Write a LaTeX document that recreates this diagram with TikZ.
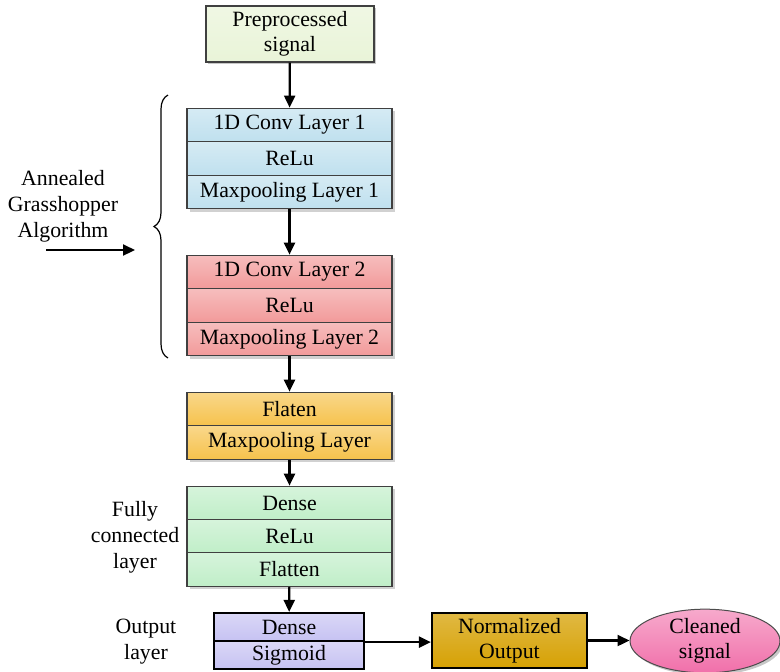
\documentclass[tikz,border=0pt]{standalone}
\usepackage{fontspec}
\setmainfont{Liberation Serif}
\usetikzlibrary{arrows.meta,shapes.geometric,shadows,decorations.pathreplacing,backgrounds}
\definecolor{cpre}{HTML}{E9F4D8}
\definecolor{cblue}{HTML}{BFE0EE}
\definecolor{cred}{HTML}{F29A9A}
\definecolor{corange}{HTML}{F6C24C}
\definecolor{cgreen}{HTML}{C0EEC8}
\definecolor{clav}{HTML}{C6C2F2}
\definecolor{cgold}{HTML}{D6A104}
\definecolor{cpink}{HTML}{F170AA}
\begin{document}
\begin{tikzpicture}[x=0.5pt,y=-0.5pt,
  every node/.style={font=\fontsize{10.9}{12.6}\selectfont, align=center, inner sep=0pt},
  sh/.style={drop shadow={shadow xshift=1.2pt,shadow yshift=-1.2pt,opacity=0.22,fill=black}},
  row/.style={rectangle, draw=black!75, line width=0.6pt, minimum width=102.5pt, minimum height=16.75pt,
     top color=#1!65!white, bottom color=#1},
  orow/.style={rectangle, draw=black, line width=1.1pt, minimum width=75pt, minimum height=14pt,
     top color=#1!65!white, bottom color=#1},
  arr/.style={-{Triangle[length=6pt,width=5.5pt]}, line width=1.1pt, black},
  lbl/.style={font=\fontsize{10.9}{13}\selectfont},
  blockshadow/.style={fill=black, opacity=0.18}
]
\useasboundingbox (0,0) rectangle (780,671);

% block shadows
\fill[blockshadow] (190,111) rectangle (395,212);
\fill[blockshadow] (190,258) rectangle (395,359);
\fill[blockshadow] (190,395) rectangle (395,462);
\fill[blockshadow] (190,489) rectangle (395,589);

% preprocessed signal
\node[rectangle, draw=black!75, line width=0.6pt, minimum width=84pt, minimum height=28pt,
      top color=cpre!70!white, bottom color=cpre, sh] (pre) at (290,34) {Preprocessed\\signal};

% block 1
\node[row=cblue] (b1a) at (289.5,125) {1D Conv Layer 1};
\node[row=cblue] (b1b) at (289.5,158.5) {ReLu};
\node[row=cblue] (b1c) at (289.5,192) {Maxpooling Layer 1};

% block 2
\node[row=cred] (b2a) at (289.5,272) {1D Conv Layer 2};
\node[row=cred] (b2b) at (289.5,305.5) {ReLu};
\node[row=cred] (b2c) at (289.5,339) {Maxpooling Layer 2};

% block 3
\node[row=corange] (b3a) at (289.5,409) {Flaten};
\node[row=corange] (b3b) at (289.5,442.5) {Maxpooling Layer};

% block 4
\node[row=cgreen] (b4a) at (289.5,503) {Dense};
\node[row=cgreen] (b4b) at (289.5,536.5) {ReLu};
\node[row=cgreen] (b4c) at (289.5,569.5) {Flatten};

% output layer
\node[orow=clav] (oa) at (289,627) {Dense};
\node[orow=clav] (ob) at (289,655) {Sigmoid};

% normalized output
\node[rectangle, draw=black, line width=1.1pt, minimum width=77.5pt, minimum height=27.5pt,
      top color=cgold!75!white, bottom color=cgold] (norm) at (509.5,640.5) {Normalized\\Output};

% cleaned signal
\node[ellipse, draw=black!70, line width=0.5pt, minimum width=75pt, minimum height=28pt,
      top color=cpink!60!white, bottom color=cpink, sh] (clean) at (705,641) {Cleaned\\signal};

% side labels
\node[lbl] (agl) at (63,206) {Annealed\\Grasshopper\\Algorithm};
\node[lbl] (fcl) at (135,537) {Fully\\connected\\layer};
\node[lbl] (oul) at (146,642) {Output\\layer};

% brace
\coordinate (brb) at (168,358);
\coordinate (brt) at (168,95);
\draw[line width=0.6pt, decorate, decoration={brace, amplitude=7pt}] (brb) -- (brt);

% algorithm arrow
\coordinate (aga) at (46,250);
\coordinate (agb) at (135,250);
\draw[arr] (aga) -- (agb);

% connectors
\draw[arr] (pre) -- (b1a);
\draw[arr] (b1c) -- (b2a);
\draw[arr] (b2c) -- (b3a);
\draw[arr] (b3b) -- (b4a);
\draw[arr] (b4c) -- (oa);
\draw[arr] (oa.south east) -- (oa.south east -| norm.west);
\draw[arr] (norm.east) -- (norm.east -| clean.west);
\end{tikzpicture}
\end{document}
